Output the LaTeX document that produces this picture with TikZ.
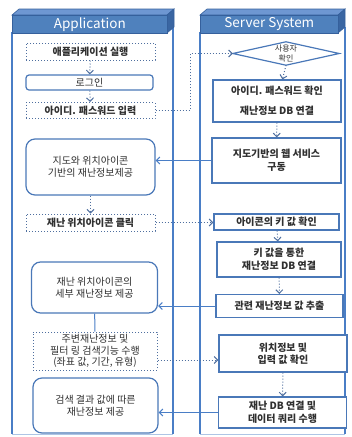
\documentclass[tikz,border=0pt]{standalone}
\usepackage{fontspec}
\setmainfont{Noto Sans CJK KR}
\usetikzlibrary{arrows.meta,shapes.geometric}
\definecolor{hdr}{HTML}{4F81BD}
\definecolor{hdrtop}{HTML}{6E97D2}
\definecolor{hdrside}{HTML}{3A66A2}
\definecolor{hdrline}{HTML}{35609C}
\definecolor{lane}{HTML}{4A7EC6}
\definecolor{boxline}{HTML}{4A78B8}
\definecolor{dotline}{HTML}{4F6F9F}
\definecolor{txt}{HTML}{303030}
\tikzset{
  base/.style={inner sep=1pt, align=center, text=txt, font=\fontsize{10}{12.5}\selectfont},
  solidbox/.style={base, draw=boxline, line width=1.2pt, fill=white},
  dotbox/.style={base, draw=dotline, line width=1pt, dotted, fill=white},
  rbox/.style={solidbox, rounded corners=9pt},
  conn/.style={draw=lane, line width=1pt, -{Straight Barb[length=3.5pt,width=7pt]}},
  dconn/.style={draw=dotline, line width=1pt, dotted, -{Straight Barb[length=3.5pt,width=7pt]}},
  laneline/.style={draw=lane, line width=1.2pt},
  bfb/.style={font=\fontsize{10}{12.5}\selectfont\bfseries},
}
\begin{document}
\begin{tikzpicture}[x=1pt,y=-1pt]
\useasboundingbox (0,0) rectangle (352,437);
% lanes
\draw[laneline] (12,32) -- (12,434);
\draw[laneline] (173,27) -- (173,434);
\draw[laneline] (200,32) -- (200,434);
\draw[laneline] (345,27) -- (345,434);
\draw[draw=lane!45, line width=1pt] (12,434) -- (173,434) (200,434) -- (345,434);
% headers
\foreach \xa/\xb/\lab/\nm in {12/167/Application/hA, 200/338/Server System/hS}{
  \fill[hdrtop, draw=hdrline, line width=0.6pt] (\xa,15) -- (\xa+7,9) -- (\xb+7,9) -- (\xb,15) -- cycle;
  \fill[hdrside, draw=hdrline, line width=0.6pt] (\xb,15) -- (\xb+7,9) -- (\xb+7,27) -- (\xb,33) -- cycle;
  \node[fill=hdr, draw=hdrline, line width=0.6pt, minimum width=(\xb-\xa)*1pt, minimum height=18pt,
        inner sep=0, anchor=north west, text=white, font=\fontsize{13.5}{14}\selectfont] (\nm) at (\xa,15) {\lab};
}
% left lane nodes
\node[dotbox, bfb, minimum width=129pt, minimum height=17pt] (n1) at (90.5,51.5) {애플리케이션 실행};
\node[solidbox, rounded corners=3pt, minimum width=127pt, minimum height=15pt] (n2) at (89.5,82.5) {로그인};
\node[dotbox, bfb, minimum width=129pt, minimum height=16pt] (n3) at (90.5,110.5) {아이디. 패스워드 입력};
\node[rbox, minimum width=129pt, minimum height=56pt] (n4) at (90.5,167) {지도와 위치아이콘\\기반의 재난정보제공};
\node[dotbox, bfb, minimum width=129pt, minimum height=17pt] (n5) at (90.5,222.5) {재난 위치아이콘 클릭};
\node[rbox, minimum width=126pt, minimum height=51pt] (n6) at (94.5,287.5) {재난 위치아이콘의\\세부 재난정보 제공};
\node[dotbox, font=\fontsize{10}{11.5}\selectfont, minimum width=124pt, minimum height=38pt] (n7) at (95,351) {주변재난정보 및\\필터 링 검색기능 수행\\(좌표 값, 기간, 유형)};
\node[rbox, minimum width=125pt, minimum height=55pt] (n8) at (95.5,405.5) {검색 결과 값에 따른\\재난정보 제공};
% right lane nodes
\node[base, minimum width=106pt, minimum height=23pt, inner sep=0,
      font=\fontsize{8}{10.5}\selectfont] (A) at (286,53.5) {사용자\\확인};
\draw[boxline, line width=1.2pt] (A.west) -- (A.north) -- (A.east) -- (A.south) -- cycle;
\node[solidbox, font=\fontsize{10}{20}\selectfont\bfseries, minimum width=128pt, minimum height=42pt] (B) at (277,101) {아이디. 패스워드 확인\\재난정보 DB 연결};
\node[solidbox, bfb, minimum width=129pt, minimum height=45pt] (C) at (276.5,160.5) {지도기반의 웹 서비스\\구동};
\node[solidbox, bfb, minimum width=125pt, minimum height=16pt] (D) at (276.5,222) {아이콘의 키 값 확인};
\node[solidbox, bfb, minimum width=124pt, minimum height=35pt] (E) at (279,259.5) {키 값을 통한\\재난정보 DB 연결};
\node[solidbox, bfb, minimum width=127pt, minimum height=23pt] (F) at (279.5,306) {관련 재난정보 값 추출};
\node[solidbox, bfb, minimum width=128pt, minimum height=37pt] (G) at (283,353.5) {위치정보 및\\입력 값 확인};
\node[solidbox, bfb, minimum width=128pt, minimum height=31pt] (H) at (282.5,412.5) {재난 DB 연결 및\\데이터 쿼리 수행};
% vertical connectors
\draw[dconn] (n1) -- (n2);
\draw[dconn] (n2) -- (n3);
\draw[dconn] (n4) -- (n5);
\draw[draw=lane, line width=1pt] (n6) -- (n7);
\draw[dconn] (A.south) -- (B);
\draw[dconn] (B) -- (C);
\draw[dconn] (D) -- (E);
\draw[dconn] (E) -- (F);
\draw[dconn] (G) -- (H);
% cross connectors
\coordinate (k1) at (190,110.5);
\draw[dconn] (n3.east) -- (k1) |- (A.west);
\draw[conn] (C.west) -- (C.west -| n4.east);
\draw[dconn] (n5.east) -- (n5.east -| D.west);
\draw[conn] (F.west) -- (F.west -| n6.east);
\draw[dconn] ([yshift=-9pt]n7.east) -- ([yshift=-9pt]n7.east -| G.west);
\draw[conn] (H.west) -- (H.west -| n8.east);
\end{tikzpicture}
\end{document}
